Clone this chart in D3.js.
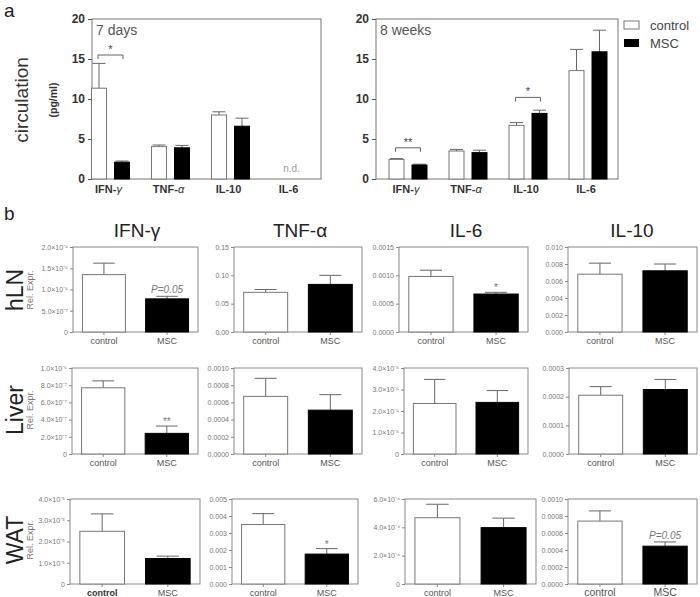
<!DOCTYPE html>
<html><head><meta charset="utf-8">
<script src="https://cdn.jsdelivr.net/npm/d3@7"></script>
<style>
body{margin:0;background:#fff}
svg{display:block;font-family:"Liberation Sans",Arial,sans-serif}
</style>
</head><body>
<svg id="c" width="700" height="597"></svg>
<script>
// ---------- Panel a: circulating cytokines (pg/ml) ----------
const circCytokines = ["IFN-γ", "TNF-α", "IL-10", "IL-6"];
const circTicks = [0, 5, 10, 15, 20];
const day7Control    = [11.35, 4.05, 8.0, null];
const day7ControlSem = [3.1, 0.2, 0.4, null];
const day7MSC        = [2.1, 3.9, 6.6, null];
const day7MSCSem     = [0.15, 0.3, 1.0, null];
const week8Control    = [2.45, 3.5, 6.7, 13.55];
const week8ControlSem = [0.1, 0.2, 0.35, 2.65];
const week8MSC        = [1.75, 3.3, 8.2, 15.9];
const week8MSCSem     = [0.1, 0.3, 0.4, 2.7];
const day7Sig  = [{cat: "IFN-γ", level: 15.5, label: "*"}];
const week8Sig = [{cat: "IFN-γ", level: 3.9, label: "**"}, {cat: "IL-10", level: 10.2, label: "*"}];

// ---------- Panel b: relative expression ----------
const genes = ["IFN-γ", "TNF-α", "IL-6", "IL-10"];
const tissues = ["hLN", "Liver", "WAT"];
const groups = ["control", "MSC"];

const hlnMean = [[1.35e-6, 0.78e-6], [0.070, 0.084], [0.00098, 0.00067], [0.0068, 0.0072]];
const hlnSem  = [[0.27e-6, 0.06e-6], [0.005, 0.016], [0.00011, 0.00003], [0.0013, 0.0008]];
const liverMean = [[7.7e-7, 2.4e-7], [0.00067, 0.00051], [2.35e-6, 2.4e-6], [0.000205, 0.000225]];
const liverSem  = [[0.8e-7, 0.85e-7], [0.00021, 0.00018], [1.12e-6, 0.55e-6], [0.00003, 0.000035]];
const watMean = [[2.48e-5, 1.2e-5], [0.0035, 0.00176], [4.68e-4, 3.98e-4], [0.00074, 0.000445]];
const watSem  = [[0.82e-5, 0.11e-5], [0.00064, 0.00032], [0.95e-4, 0.67e-4], [0.00012, 0.00005]];

const hlnTicks = [[0, 5e-7, 1e-6, 1.5e-6, 2e-6], [0, 0.05, 0.10, 0.15], [0, 0.0005, 0.0010, 0.0015], [0, 0.002, 0.004, 0.006, 0.008, 0.010]];
const hlnTickLabels = [["0", "5.0×10⁻⁷", "1.0×10⁻⁶", "1.5×10⁻⁶", "2.0×10⁻⁶"], ["0.00", "0.05", "0.10", "0.15"], ["0.0000", "0.0005", "0.0010", "0.0015"], ["0.000", "0.002", "0.004", "0.006", "0.008", "0.010"]];
const liverTicks = [[0, 2e-7, 4e-7, 6e-7, 8e-7, 1e-6], [0, 0.0002, 0.0004, 0.0006, 0.0008, 0.0010], [0, 1e-6, 2e-6, 3e-6, 4e-6], [0, 0.0001, 0.0002, 0.0003]];
const liverTickLabels = [["0", "2.0×10⁻⁷", "4.0×10⁻⁷", "6.0×10⁻⁷", "8.0×10⁻⁷", "1.0×10⁻⁶"], ["0.0000", "0.0002", "0.0004", "0.0006", "0.0008", "0.0010"], ["0", "1.0×10⁻⁶", "2.0×10⁻⁶", "3.0×10⁻⁶", "4.0×10⁻⁶"], ["0.0000", "0.0001", "0.0002", "0.0003"]];
const watTicks = [[0, 1e-5, 2e-5, 3e-5, 4e-5], [0, 0.001, 0.002, 0.003, 0.004, 0.005], [0, 2e-4, 4e-4, 6e-4], [0, 0.0002, 0.0004, 0.0006, 0.0008, 0.0010]];
const watTickLabels = [["0", "1.0×10⁻⁵", "2.0×10⁻⁵", "3.0×10⁻⁵", "4.0×10⁻⁵"], ["0.000", "0.001", "0.002", "0.003", "0.004", "0.005"], ["0", "2.0×10⁻⁴", "4.0×10⁻⁴", "6.0×10⁻⁴"], ["0.0000", "0.0002", "0.0004", "0.0006", "0.0008", "0.0010"]];

const hlnNotes   = ["P=0.05", "", "*", ""];
const liverNotes = ["**", "", "", ""];
const watNotes   = ["", "*", "", "P=0.05"];

// ---------- layout (positions only) ----------
const svg = d3.select("#c");
const FONT = '"Liberation Sans",Arial,sans-serif';

function txt(x, y, s, o = {}) {
  const t = svg.append("text").attr("x", x).attr("y", y).text(s)
    .attr("font-size", o.size || 10).attr("fill", o.fill || "#333")
    .attr("text-anchor", o.anchor || "start");
  if (o.weight) t.attr("font-weight", o.weight);
  if (o.style) t.attr("font-style", o.style);
  if (o.rot) t.attr("transform", `rotate(${o.rot},${x},${y})`);
  return t;
}

// ----- panel a -----
function circPanel(cfg) {
  const g = svg.append("g");
  const y = d3.scaleLinear().domain([0, 20]).range([cfg.y1, cfg.y0]);
  const x0 = d3.scaleBand().domain(circCytokines).range(cfg.band);
  const x1 = d3.scaleBand().domain(groups).range([-19, 19]).paddingInner(8 / 23);
  g.append("rect").attr("x", cfg.x0).attr("y", cfg.y0).attr("width", cfg.x1 - cfg.x0)
    .attr("height", cfg.y1 - cfg.y0).attr("fill", "none").attr("stroke", "#777");
  const ax = g.append("g").attr("transform", `translate(${cfg.x0},0)`)
    .call(d3.axisLeft(y).tickValues(circTicks).tickSize(4).tickPadding(3));
  ax.select(".domain").remove();
  ax.selectAll("line").attr("stroke", "#555");
  ax.selectAll("text").attr("font-family", FONT).attr("font-size", 12).attr("font-weight", "bold").attr("fill", "#333");
  const series = [[cfg.ctrl, cfg.ctrlSem], [cfg.msc, cfg.mscSem]];
  series.forEach(([vals, sems], gi) => {
    circCytokines.forEach((c, i) => {
      const v = vals[i];
      if (v == null) return;
      const cx = x0(c) + x0.bandwidth() / 2;
      const bx = cx + x1(groups[gi]);
      const bw = x1.bandwidth();
      const top = y(v + sems[i]);
      g.append("line").attr("x1", bx + bw / 2).attr("x2", bx + bw / 2).attr("y1", y(v)).attr("y2", top).attr("stroke", "#666");
      g.append("line").attr("x1", bx + 1).attr("x2", bx + bw - 1).attr("y1", top).attr("y2", top).attr("stroke", "#666");
      g.append("rect").attr("x", bx).attr("y", y(v)).attr("width", bw).attr("height", y(0) - y(v))
        .attr("fill", gi ? "#000" : "#fff").attr("stroke", gi ? "#000" : "#777");
    });
  });
  circCytokines.forEach((c, i) => {
    const cx = x0(c) + x0.bandwidth() / 2;
    if (cfg.ctrl[i] == null) txt(cx + 1, cfg.y1 - 7, "n.d.", {size: 10, fill: "#999", anchor: "middle"});
    const t = txt(cx - 2, 193, "", {size: 11, weight: "bold", fill: "#333", anchor: "middle"});
    const parts = c.split("-");
    t.append("tspan").text(parts[0] + "-");
    t.append("tspan").text(parts[1]).attr("font-weight", /[γα]/.test(parts[1]) ? "normal" : "bold")
      .attr("font-style", /[γα]/.test(parts[1]) ? "italic" : null);
  });
  cfg.sig.forEach(s => {
    const cx = x0(s.cat) + x0.bandwidth() / 2;
    const a = cx + x1("control") + x1.bandwidth() / 2 - 1, b = cx + x1("MSC") + x1.bandwidth() / 2 + 1;
    const yy = y(s.level);
    g.append("path").attr("d", `M${a},${yy + 4}V${yy}H${b}V${yy + 4}`).attr("fill", "none").attr("stroke", "#666");
    txt((a + b) / 2, yy - 2, s.label, {size: 11, fill: "#444", anchor: "middle"});
  });
  txt(cfg.x0 + 4, 35, cfg.label, {size: 14, fill: "#555"});
}

circPanel({x0: 92, x1: 321, y0: 19, y1: 179, band: [80.5, 320.5], ctrl: day7Control, ctrlSem: day7ControlSem,
  msc: day7MSC, mscSem: day7MSCSem, sig: day7Sig, label: "7 days"});
circPanel({x0: 376, x1: 618, y0: 19, y1: 179, band: [378, 618], ctrl: week8Control, ctrlSem: week8ControlSem,
  msc: week8MSC, mscSem: week8MSCSem, sig: week8Sig, label: "8 weeks"});

// legend
svg.append("rect").attr("x", 624).attr("y", 21).attr("width", 15).attr("height", 8).attr("fill", "#fff").attr("stroke", "#777");
svg.append("rect").attr("x", 624).attr("y", 39).attr("width", 15).attr("height", 8).attr("fill", "#000");
txt(650, 30, "control", {size: 13, fill: "#444"});
txt(650, 48, "MSC", {size: 13, fill: "#444"});

txt(4, 17, "a", {size: 19, fill: "#222"});
txt(28, 100, "circulation", {size: 19, fill: "#333", anchor: "middle", rot: -90});
txt(57, 100, "(pg/ml)", {size: 10.5, weight: "bold", fill: "#333", anchor: "middle", rot: -90});

// ----- panel b -----
txt(4, 220, "b", {size: 19, fill: "#222"});
const titleX = [137, 300, 466, 632];
genes.forEach((gname, i) => txt(titleX[i], 237, gname, {size: 19, fill: "#222", anchor: "middle"}));

const rowBoxes = [
  {y0: 247, y1: 332, xs: [[73, 198], [234, 362], [399, 528], [568, 697]], labY: 344},
  {y0: 368, y1: 454, xs: [[72, 198], [234, 362], [404, 528], [569, 697]], labY: 466},
  {y0: 499, y1: 584, xs: [[70, 200], [232, 358], [405, 536], [568, 697]], labY: 596}
];
const rowMeans = [hlnMean, liverMean, watMean];
const rowSems = [hlnSem, liverSem, watSem];
const rowTicks = [hlnTicks, liverTicks, watTicks];
const rowTickLabels = [hlnTickLabels, liverTickLabels, watTickLabels];
const rowNotes = [hlnNotes, liverNotes, watNotes];
const rowCenters = [290, 410, 540];

tissues.forEach((tis, r) => {
  const rb = rowBoxes[r];
  txt(23, rowCenters[r], tis, {size: 23, fill: "#222", anchor: "middle", rot: -90});
  txt(33, rowCenters[r], "Rel. Expr.", {size: 9, fill: "#777", anchor: "middle", rot: -90});
  genes.forEach((gname, gi) => {
    const [bx0, bx1] = rb.xs[gi];
    const ticks = rowTicks[r][gi];
    const labels = rowTickLabels[r][gi];
    const y = d3.scaleLinear().domain([0, ticks[ticks.length - 1]]).range([rb.y1, rb.y0]);
    const x = d3.scaleBand().domain(groups).range([bx0, bx1]).paddingInner(0.32).paddingOuter(0.15);
    const g = svg.append("g");
    g.append("rect").attr("x", bx0).attr("y", rb.y0).attr("width", bx1 - bx0).attr("height", rb.y1 - rb.y0)
      .attr("fill", "none").attr("stroke", "#888");
    const ax = g.append("g").attr("transform", `translate(${bx0},0)`)
      .call(d3.axisLeft(y).tickValues(ticks).tickFormat((d, i) => labels[i]).tickSize(3).tickPadding(2));
    ax.select(".domain").remove();
    ax.selectAll("line").attr("stroke", "#888");
    ax.selectAll("text").attr("font-family", FONT).attr("font-size", 7).attr("fill", "#777");
    const xa = g.append("g").attr("transform", `translate(0,${rb.y1})`)
      .call(d3.axisBottom(x).tickSize(3).tickPadding(4));
    xa.select(".domain").remove();
    xa.selectAll("line").attr("stroke", "#888");
    xa.selectAll("text").attr("font-family", FONT).attr("font-size", 9).attr("fill", "#555").attr("dy", null)
      .attr("y", rb.labY - rb.y1);
    if (r === 2 && gi === 0) xa.selectAll("text").filter(d => d === "control").attr("font-weight", "bold").attr("fill", "#333");
    if (r === 2 && gi === 3) xa.selectAll("text").attr("font-size", 10.5);
    groups.forEach((grp, k) => {
      const v = rowMeans[r][gi][k], s = rowSems[r][gi][k];
      const xl = x(grp), bw = x.bandwidth(), cx = xl + bw / 2;
      const top = y(v + s);
      g.append("line").attr("x1", cx).attr("x2", cx).attr("y1", y(v)).attr("y2", top).attr("stroke", "#666");
      g.append("line").attr("x1", cx - bw / 4).attr("x2", cx + bw / 4).attr("y1", top).attr("y2", top).attr("stroke", "#666");
      g.append("rect").attr("x", xl).attr("y", y(v)).attr("width", bw).attr("height", y(0) - y(v))
        .attr("fill", k ? "#000" : "#fff").attr("stroke", k ? "#000" : "#777");
      if (k === 1 && rowNotes[r][gi]) {
        const note = rowNotes[r][gi];
        if (note.startsWith("P")) {
          txt(cx, top - 3, note, {size: 10, style: "italic", fill: "#777", anchor: "middle"});
        } else {
          txt(cx, top - 1, note, {size: 10, fill: "#777", anchor: "middle"});
        }
      }
    });
  });
});
</script>
</body></html>
